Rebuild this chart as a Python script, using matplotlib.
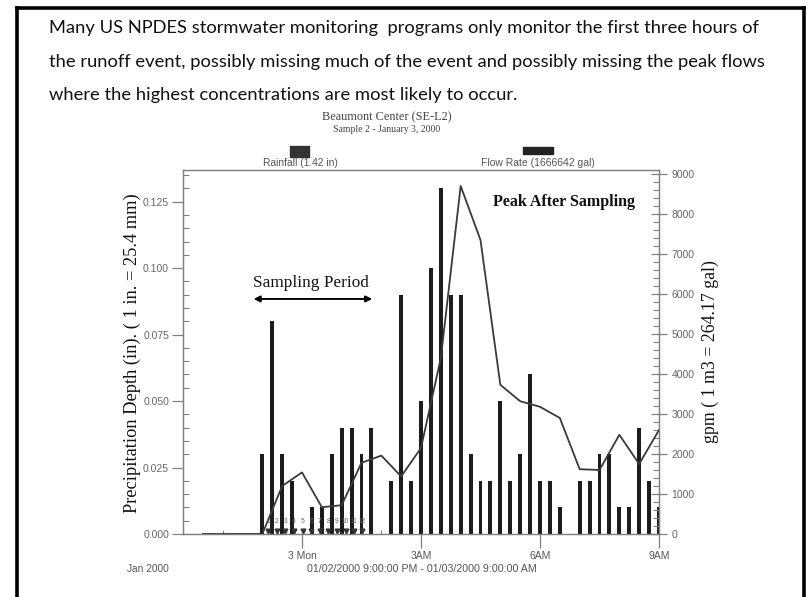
import matplotlib
matplotlib.use("Agg")
import matplotlib.pyplot as plt
from matplotlib.lines import Line2D
from matplotlib.patches import Rectangle
from matplotlib.ticker import MultipleLocator, FixedLocator

# ---------------- data ----------------
rain_times = ["23:00", "23:15", "23:30", "23:45", "00:15", "00:30", "00:45", "01:00",
              "01:15", "01:30", "01:45", "02:15", "02:30", "02:45", "03:00", "03:15",
              "03:30", "03:45", "04:00", "04:15", "04:30", "04:45", "05:00", "05:15",
              "05:30", "05:45", "06:00", "06:15", "06:30", "07:00", "07:15", "07:30",
              "07:45", "08:00", "08:15", "08:30", "08:45", "09:00"]
rain_in = [0.03, 0.08, 0.03, 0.02, 0.01, 0.01, 0.03, 0.04,
           0.04, 0.03, 0.04, 0.02, 0.09, 0.02, 0.05, 0.10,
           0.13, 0.09, 0.09, 0.03, 0.02, 0.02, 0.05, 0.02,
           0.03, 0.06, 0.02, 0.02, 0.01, 0.02, 0.02, 0.03,
           0.03, 0.01, 0.01, 0.04, 0.02, 0.01]

flow_times = ["21:30", "22:00", "22:30", "23:00", "23:30", "00:00", "00:30", "01:00",
              "01:30", "02:00", "02:30", "03:00", "03:30", "04:00", "04:30", "05:00",
              "05:30", "06:00", "06:30", "07:00", "07:30", "08:00", "08:30", "09:00"]
flow_gpm = [0, 0, 0, 0, 1200, 1540, 670, 720,
            1780, 1960, 1440, 2150, 4400, 8700, 7350, 3730,
            3320, 3180, 2900, 1620, 1600, 2480, 1750, 2600]

sample_times = ["23:09", "23:22", "23:35", "23:48", "00:01", "00:14",
                "00:27", "00:40", "00:53", "01:06", "01:19", "01:31"]
sample_labels = ["1", "2", "3", "4", "5", "6", "7", "8", "9", "10", "11", "12"]

x_tick_times = ["00:00", "03:00", "06:00", "09:00"]
x_tick_labels = ["3 Mon", "3AM", "6AM", "9AM"]

slide_lines = ["Many US NPDES stormwater monitoring  programs only monitor the first three hours of",
               "the runoff event, possibly missing much of the event and possibly missing the peak flows",
               "where the highest concentrations are most likely to occur."]


def to_hours(t):
    h, m = t.split(":")
    h = int(h)
    if h < 12:
        h += 24
    return h + int(m) / 60.0


rx = [to_hours(t) for t in rain_times]
fx = [to_hours(t) for t in flow_times]
sx = [to_hours(t) for t in sample_times]

W, H = 807, 597
fig = plt.figure(figsize=(W / 100, H / 100), dpi=100)
fig.patch.set_facecolor("white")


def fx_(px):
    return px / W


def fy_(py):
    return 1 - py / H


# slide frame
for (x0, y0, x1, y1) in [(17, 8, 804, 8), (17, 8, 17, 600), (804, 8, 804, 600)]:
    fig.add_artist(Line2D([fx_(x0), fx_(x1)], [fy_(y0), fy_(y1)], color="black", lw=2.6,
                          solid_capstyle="projecting"))

for yy, line in zip([28, 61.5, 95], slide_lines):
    fig.text(fx_(49), fy_(yy), line, family="Lato", fontsize=13.25, va="center",
             ha="left", color="#111111")

serif = "Liberation Serif"
sans = "Liberation Sans"

fig.text(fx_(387), fy_(117), "Beaumont Center (SE-L2)", family=serif, fontsize=8.8,
         ha="center", va="center", color="#444444")
fig.text(fx_(387), fy_(130), "Sample 2 - January 3, 2000", family=serif, fontsize=7,
         ha="center", va="center", color="#444444")

# legend
fig.add_artist(Rectangle((fx_(290), fy_(157)), (309 - 290) / W, 11 / H, color="#333333"))
fig.text(fx_(300), fy_(163), "Rainfall (1.42 in)", family=sans, fontsize=7.4,
         ha="center", va="center", color="#555555")
fig.add_artist(Rectangle((fx_(523), fy_(154)), (553 - 523) / W, 7 / H, color="#222222"))
fig.text(fx_(538), fy_(163), "Flow Rate (1666642 gal)", family=sans, fontsize=7.5,
         ha="center", va="center", color="#555555")

# axes
L, R, T, B = 183, 659, 170, 534
ax = fig.add_axes([L / W, 1 - B / H, (R - L) / W, (B - T) / H])
ax.set_xlim(21, 33)
ax.set_ylim(0, 0.1369)
ax.bar(rx, rain_in, width=0.1, color="#1c1c1c", zorder=2)

ax2 = ax.twinx()
ax2.set_ylim(0, 9100)
ax2.plot(fx, flow_gpm, color="#3a3a3a", lw=1.3, zorder=5)

# sample markers
ax.plot(sx, [0.0012] * len(sx), linestyle="none", marker="v", ms=3.4, color="#333333",
        zorder=4, clip_on=False)
for x, lab in zip(sx, sample_labels):
    ax.text(x, 0.0035, lab, fontsize=4.8, family=sans, ha="center", va="bottom",
            color="#666666", zorder=4)

spine_c = "#808080"
for sp in ["left", "top", "right", "bottom"]:
    ax.spines[sp].set_color(spine_c)
    ax2.spines[sp].set_color(spine_c)
    ax.spines[sp].set_linewidth(0.9)
    ax2.spines[sp].set_linewidth(0.9)

ax.yaxis.set_major_locator(FixedLocator([0, 0.025, 0.05, 0.075, 0.1, 0.125]))
ax.yaxis.set_minor_locator(MultipleLocator(0.005))
ax.set_yticklabels(["0.000", "0.025", "0.050", "0.075", "0.100", "0.125"])
ax.tick_params(axis="y", which="major", direction="out", length=8, width=0.9,
               color=spine_c, labelsize=7.5, labelcolor="#666666", pad=2)
ax.tick_params(axis="y", which="minor", direction="in", length=4, width=0.8, color=spine_c)
for t in ax.get_yticklabels():
    t.set_family(sans)

ax.xaxis.set_major_locator(FixedLocator([to_hours(t) for t in x_tick_times]))
ax.set_xticklabels(x_tick_labels)
ax.xaxis.set_minor_locator(MultipleLocator(1))
ax.tick_params(axis="x", which="major", direction="out", length=10, width=0.9,
               color=spine_c, labelsize=7.5, labelcolor="#555555", pad=2)
ax.tick_params(axis="x", which="minor", direction="in", length=3, width=0.8, color=spine_c)
for t in ax.get_xticklabels():
    t.set_family(sans)

ax2.yaxis.set_major_locator(MultipleLocator(1000))
ax2.yaxis.set_minor_locator(MultipleLocator(200))
ax2.tick_params(axis="y", which="major", direction="inout", length=12, width=0.9,
                color=spine_c, labelsize=7.5, labelcolor="#666666", pad=3)
ax2.tick_params(axis="y", which="minor", direction="in", length=4, width=0.8, color=spine_c)
for t in ax2.get_yticklabels():
    t.set_family(sans)

# annotations
ax.annotate("", xy=(22.78, 0.0884), xytext=(25.77, 0.0884),
            arrowprops=dict(arrowstyle="<|-|>", color="black", lw=1.4,
                            mutation_scale=9, shrinkA=0, shrinkB=0))
ax.text(24.22, 0.0944, "Sampling Period", family=serif, fontsize=12.4, ha="center",
        va="center", color="#111111")
ax.text(30.6, 0.1249, "Peak After Sampling", family=serif, fontsize=11.5,
        fontweight="bold", ha="center", va="center", color="#111111")

fig.text(fx_(132), fy_(353), "Precipitation Depth (in). ( 1 in. = 25.4 mm)", family=serif,
         fontsize=13.2, rotation=90, ha="center", va="center", color="#111111")
fig.text(fx_(710), fy_(352), "gpm ( 1 m3 = 264.17 gal)", family=serif,
         fontsize=12.8, rotation=90, ha="center", va="center", color="#111111")

fig.text(fx_(148), fy_(569), "Jan 2000", family=sans, fontsize=7.3, ha="center",
         va="center", color="#555555")
fig.text(fx_(422), fy_(569), "01/02/2000 9:00:00 PM - 01/03/2000 9:00:00 AM", family=sans,
         fontsize=7.7, ha="center", va="center", color="#555555")

fig.savefig("out.png", dpi=100, facecolor="white")
